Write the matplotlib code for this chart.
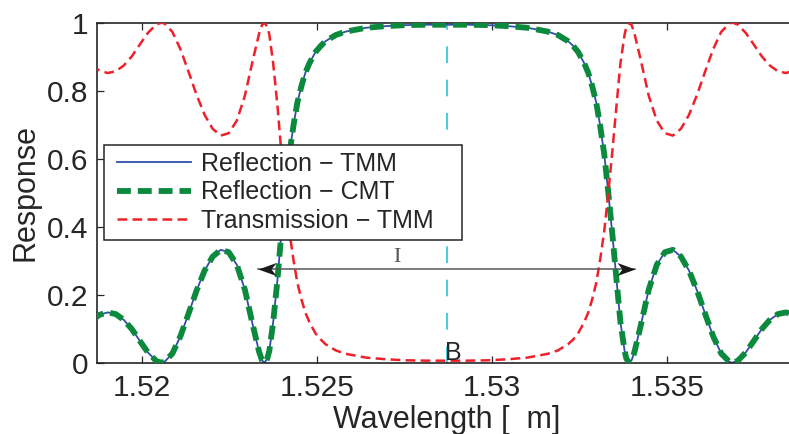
import matplotlib
matplotlib.use("Agg")
import matplotlib.pyplot as plt
from matplotlib.path import Path
from matplotlib.patches import Rectangle

# --------------------------------------------------------------------------
# Data (wavelength in um)
# --------------------------------------------------------------------------
wavelength = [
    1.51855, 1.51878, 1.51901, 1.51924, 1.51947,
    1.51970, 1.51993, 1.52016, 1.52040, 1.52054,
    1.52063, 1.52086, 1.52109, 1.52132, 1.52155,
    1.52178, 1.52201, 1.52224, 1.52247, 1.52270,
    1.52293, 1.52316, 1.52334, 1.52342, 1.52349,
    1.52357, 1.52363, 1.52374, 1.52386, 1.52397,
    1.52409, 1.52420, 1.52432, 1.52443, 1.52455,
    1.52466, 1.52478, 1.52495, 1.52510, 1.52524,
    1.52553, 1.52582, 1.52639, 1.52697, 1.52755,
    1.52812, 1.52870,
    1.52928, 1.52985, 1.53043, 1.53101, 1.53158,
    1.53187, 1.53216, 1.53231, 1.53245, 1.53262,
    1.53274, 1.53285, 1.53297, 1.53308, 1.53320,
    1.53331, 1.53343, 1.53355, 1.53366, 1.53378,
    1.53383, 1.53391, 1.53398, 1.53406, 1.53424,
    1.53447, 1.53470, 1.53493, 1.53516, 1.53539,
    1.53562, 1.53585, 1.53608, 1.53631, 1.53654,
    1.53678, 1.53686, 1.53701, 1.53724, 1.53747,
    1.53770, 1.53793, 1.53816, 1.53839, 1.53862,
    1.53885,
]

refl_tmm = [
    0.124, 0.141, 0.148, 0.143, 0.126,
    0.099, 0.064, 0.030, 0.005, 0.000,
    0.002, 0.027, 0.078, 0.144, 0.212,
    0.271, 0.312, 0.332, 0.325, 0.288,
    0.215, 0.109, 0.031, 0.007, 0.000,
    0.012, 0.035, 0.120, 0.242, 0.378,
    0.505, 0.612, 0.698, 0.765, 0.815,
    0.853, 0.882, 0.914, 0.932, 0.946,
    0.964, 0.974, 0.985, 0.990, 0.993,
    0.994, 0.994,
    0.994, 0.993, 0.990, 0.985, 0.974,
    0.964, 0.946, 0.932, 0.914, 0.882,
    0.853, 0.815, 0.765, 0.698, 0.612,
    0.505, 0.378, 0.242, 0.120, 0.035,
    0.012, 0.000, 0.007, 0.031, 0.109,
    0.215, 0.288, 0.325, 0.332, 0.312,
    0.271, 0.212, 0.144, 0.078, 0.027,
    0.002, 0.000, 0.005, 0.030, 0.064,
    0.099, 0.126, 0.143, 0.148, 0.141,
    0.124,
]

# CMT result lies on top of the TMM one within the line width
refl_cmt = list(refl_tmm)

trans_tmm = [
    0.876, 0.859, 0.852, 0.857, 0.874,
    0.901, 0.936, 0.970, 0.995, 1.000,
    0.998, 0.973, 0.922, 0.856, 0.788,
    0.729, 0.688, 0.668, 0.675, 0.712,
    0.785, 0.891, 0.969, 0.993, 1.000,
    0.988, 0.965, 0.880, 0.758, 0.622,
    0.495, 0.388, 0.302, 0.235, 0.185,
    0.147, 0.118, 0.086, 0.068, 0.054,
    0.036, 0.026, 0.015, 0.010, 0.007,
    0.006, 0.006,
    0.006, 0.007, 0.010, 0.015, 0.026,
    0.036, 0.054, 0.068, 0.086, 0.118,
    0.147, 0.185, 0.235, 0.302, 0.388,
    0.495, 0.622, 0.758, 0.880, 0.965,
    0.988, 1.000, 0.993, 0.969, 0.891,
    0.785, 0.712, 0.675, 0.668, 0.688,
    0.729, 0.788, 0.856, 0.922, 0.973,
    0.998, 1.000, 0.995, 0.970, 0.936,
    0.901, 0.874, 0.857, 0.852, 0.859,
    0.876,
]

series_labels = ["Reflection \u2212 TMM", "Reflection \u2212 CMT",
                 "Transmission \u2212 TMM"]

lam_b = 1.5287                      # Bragg wavelength (dashed cyan line)
band_edges = [1.52331, 1.53408]     # bandwidth arrow ends
band_level = 0.275

x_ticks = [1.52, 1.525, 1.53, 1.535]
x_tick_labels = ["1.52", "1.525", "1.53", "1.535"]
y_ticks = [0, 0.2, 0.4, 0.6, 0.8, 1.0]
y_tick_labels = ["0", "0.2", "0.4", "0.6", "0.8", "1"]

# --------------------------------------------------------------------------
# Plot
# --------------------------------------------------------------------------
plt.rcParams["font.family"] = ["Liberation Sans", "DejaVu Sans"]
plt.rcParams["lines.scale_dashes"] = False
TXT = "#262626"

W, H = 789, 434
fig = plt.figure(figsize=(W / 100, H / 100), dpi=100)
ax = fig.add_axes([96.8 / W, (H - 362.7) / H, 700.0 / W, 340.0 / H])

ax.axvline(lam_b, color="#22c8d6", lw=1.2, dashes=(12, 12), zorder=1)

l1, = ax.plot(wavelength, refl_tmm, color="#2f4fa8", lw=1.3, zorder=2)
l2, = ax.plot(wavelength, refl_cmt, color="#0b8a3e", lw=4.2,
              dashes=(10, 5), zorder=3)
l3, = ax.plot(wavelength, trans_tmm, color="#f0202a", lw=1.8,
              dashes=(7, 3.8), zorder=3.5)

# bandwidth arrow with notched heads
ax.plot(band_edges, [band_level, band_level], color="#555555", lw=1.1,
        zorder=3.6)
head_r = Path([(0, 0), (-1, 0.36), (-0.72, 0), (-1, -0.36), (0, 0)],
              [Path.MOVETO, Path.LINETO, Path.LINETO, Path.LINETO,
               Path.CLOSEPOLY])
head_l = Path([(0, 0), (1, 0.36), (0.72, 0), (1, -0.36), (0, 0)],
              [Path.MOVETO, Path.LINETO, Path.LINETO, Path.LINETO,
               Path.CLOSEPOLY])
ax.plot([band_edges[0]], [band_level], marker=head_l, ms=26,
        color="#1a1a1a", mew=0, zorder=3.7)
ax.plot([band_edges[1]], [band_level], marker=head_r, ms=26,
        color="#1a1a1a", mew=0, zorder=3.7)

ax.text(1.52727, 0.308, "I", family="Liberation Serif", fontsize=16,
        color="#555555", ha="center", va="center", zorder=3.8)
ax.text(lam_b - 0.00005, 0.008, "B", fontsize=18, color=TXT,
        ha="left", va="baseline", zorder=3.8)

ax.set_xlim(1.5187, 1.5387)
ax.set_ylim(0, 1)
ax.set_xticks(x_ticks)
ax.set_xticklabels(x_tick_labels)
ax.set_yticks(y_ticks)
ax.set_yticklabels(y_tick_labels)
ax.tick_params(direction="in", length=5, width=0.9, labelsize=21.5,
               colors=TXT, top=True, right=True, pad=6)
ax.tick_params(axis="x", pad=8)
for s in ax.spines.values():
    s.set_linewidth(1.2)
    s.set_color(TXT)

ax.set_xlabel("Wavelength [  m]", fontsize=22, color=TXT, labelpad=2)
ax.set_ylabel("Response", fontsize=22, color=TXT, labelpad=5)

# legend: drawn frame plus frameless legend on top of it
frame = Rectangle((104 / W, (H - 240) / H), 358 / W, 95 / H,
                  transform=fig.transFigure, facecolor="white",
                  edgecolor=TXT, lw=1.1, zorder=4, clip_on=False)
ax.add_patch(frame)
leg = ax.legend([l1, l2, l3], series_labels, loc="upper left",
                bbox_to_anchor=(117 / W, (H - 152) / H),
                bbox_transform=fig.transFigure, frameon=False,
                borderpad=0, borderaxespad=0, fontsize=18,
                handlelength=2.96, handletextpad=0.4, labelspacing=0.17)
leg.set_zorder(5)
for t in leg.get_texts():
    t.set_color(TXT)

fig.savefig("out.png", dpi=100)
